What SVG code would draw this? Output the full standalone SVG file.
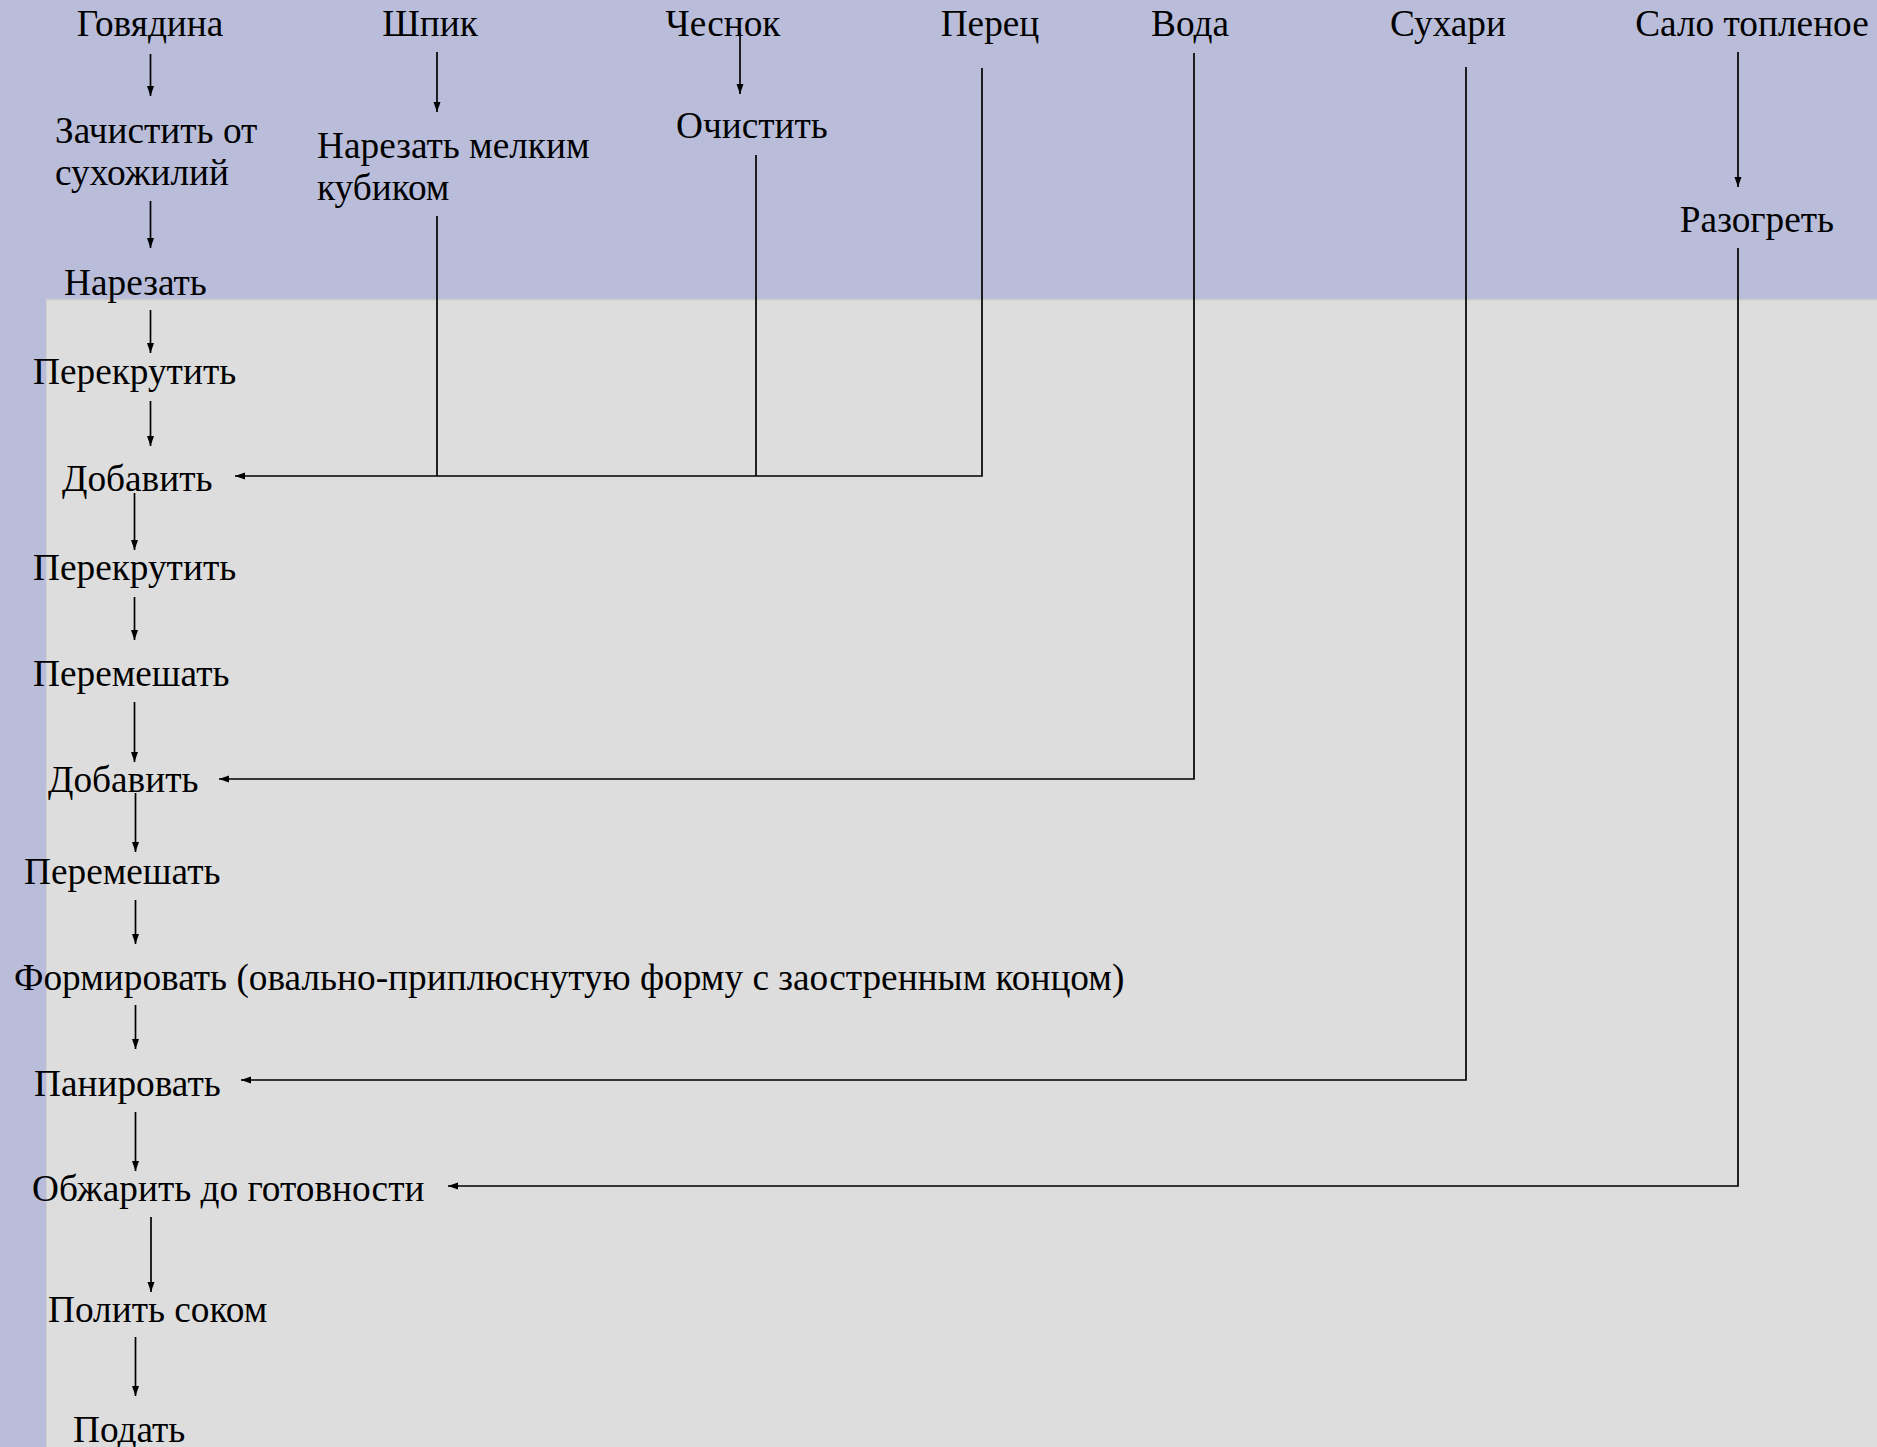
<svg xmlns="http://www.w3.org/2000/svg" width="1877" height="1447" viewBox="0 0 1877 1447">
<style>
text{font-family:"Liberation Serif","Times New Roman",serif;font-size:37.3px;fill:#000}
.c{text-anchor:middle}
.ln{fill:none;stroke:#000;stroke-width:1.7}
</style>
<defs>
<marker id="ah" viewBox="0 0 10 8" refX="10" refY="4" markerUnits="userSpaceOnUse" markerWidth="10" markerHeight="8" orient="auto">
<path d="M0,0.5 L10,4 L0,7.5 z" fill="#000"/>
</marker>
</defs>
<rect x="0" y="0" width="1877" height="1447" fill="#b9bdd9"/>
<rect x="46" y="299" width="1831" height="1148" fill="#dddddd"/>
<line x1="46" y1="299.5" x2="1877" y2="299.5" stroke="#c9c9c9" stroke-width="1.5"/>
<line x1="46.5" y1="299" x2="46.5" y2="1447" stroke="#d2d2d2" stroke-width="1"/>

<g id="connectors">
<line class="ln" x1="150.5" y1="54" x2="150.5" y2="96" marker-end="url(#ah)"/>
<line class="ln" x1="150.5" y1="201" x2="150.5" y2="248" marker-end="url(#ah)"/>
<line class="ln" x1="150.5" y1="310" x2="150.5" y2="353" marker-end="url(#ah)"/>
<line class="ln" x1="150.5" y1="401" x2="150.5" y2="446" marker-end="url(#ah)"/>
<line class="ln" x1="134.5" y1="493" x2="134.5" y2="550" marker-end="url(#ah)"/>
<line class="ln" x1="134.5" y1="597" x2="134.5" y2="640" marker-end="url(#ah)"/>
<line class="ln" x1="134.5" y1="702" x2="134.5" y2="762" marker-end="url(#ah)"/>
<line class="ln" x1="135.5" y1="793" x2="135.5" y2="852" marker-end="url(#ah)"/>
<line class="ln" x1="135.5" y1="900" x2="135.5" y2="944" marker-end="url(#ah)"/>
<line class="ln" x1="135.5" y1="1005" x2="135.5" y2="1049" marker-end="url(#ah)"/>
<line class="ln" x1="135.5" y1="1112" x2="135.5" y2="1171" marker-end="url(#ah)"/>
<line class="ln" x1="151" y1="1217" x2="151" y2="1292" marker-end="url(#ah)"/>
<line class="ln" x1="135.5" y1="1337" x2="135.5" y2="1396" marker-end="url(#ah)"/>
<line class="ln" x1="437" y1="52" x2="437" y2="112" marker-end="url(#ah)"/>
<line class="ln" x1="740" y1="33" x2="740" y2="94" marker-end="url(#ah)"/>
<line class="ln" x1="1738" y1="52" x2="1738" y2="187" marker-end="url(#ah)"/>
<polyline class="ln" points="437,216 437,476"/>
<polyline class="ln" points="756,155 756,476"/>
<polyline class="ln" points="982,68 982,476 235,476" marker-end="url(#ah)"/>
<polyline class="ln" points="1194,53 1194,779 219,779" marker-end="url(#ah)"/>
<polyline class="ln" points="1466,67 1466,1080 241,1080" marker-end="url(#ah)"/>
<polyline class="ln" points="1738,248 1738,1186 448,1186" marker-end="url(#ah)"/>
</g>

<g id="n-govyadina"><text class="c" x="150" y="36">Говядина</text></g>
<g id="n-shpik"><text class="c" x="430" y="36">Шпик</text></g>
<g id="n-chesnok"><text class="c" x="723" y="36">Чеснок</text></g>
<g id="n-perec"><text class="c" x="990" y="36">Перец</text></g>
<g id="n-voda"><text class="c" x="1190" y="36">Вода</text></g>
<g id="n-suhari"><text class="c" x="1448" y="36">Сухари</text></g>
<g id="n-salo"><text class="c" x="1752" y="36">Сало топленое</text></g>

<g id="n-zachistit"><text x="55" y="143">Зачистить от</text><text x="55" y="185">сухожилий</text></g>
<g id="n-narezat"><text x="64" y="295">Нарезать</text></g>
<g id="n-narezat-melkim"><text x="317" y="158">Нарезать мелким</text><text x="317" y="200">кубиком</text></g>
<g id="n-ochistit"><text x="676" y="138">Очистить</text></g>
<g id="n-razogret"><text class="c" x="1757" y="232">Разогреть</text></g>
<g id="n-perekrutit1"><text x="33" y="384">Перекрутить</text></g>
<g id="n-dobavit1"><text x="62" y="491">Добавить</text></g>
<g id="n-perekrutit2"><text x="33" y="580">Перекрутить</text></g>
<g id="n-peremeshat1"><text x="33" y="686">Перемешать</text></g>
<g id="n-dobavit2"><text x="48" y="792">Добавить</text></g>
<g id="n-peremeshat2"><text x="24" y="884">Перемешать</text></g>
<g id="n-formirovat"><text x="14" y="990">Формировать (овально-приплюснутую форму с заостренным концом)</text></g>
<g id="n-panirovat"><text x="34" y="1096">Панировать</text></g>
<g id="n-obzharit"><text x="32" y="1201">Обжарить до готовности</text></g>
<g id="n-polit"><text x="48" y="1322">Полить соком</text></g>
<g id="n-podat"><text x="73" y="1442">Подать</text></g>
</svg>
